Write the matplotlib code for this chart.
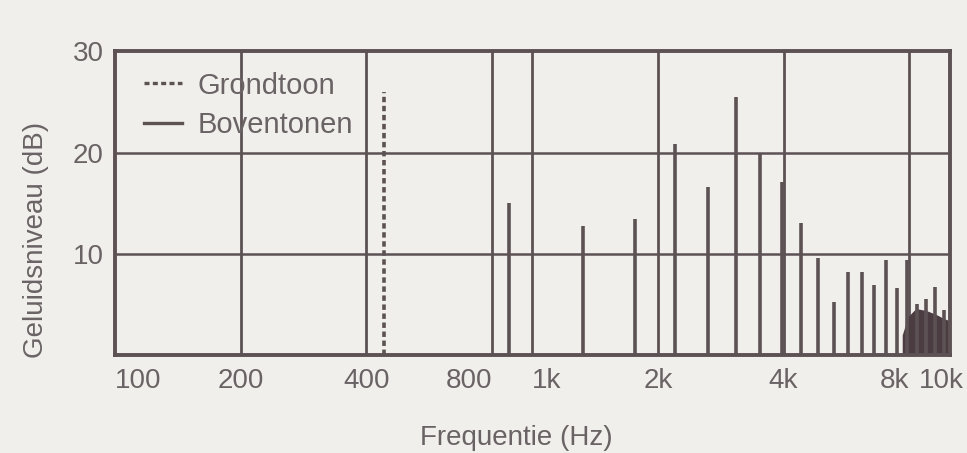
import matplotlib
matplotlib.use("Agg")
import matplotlib.pyplot as plt
import matplotlib.transforms as mtransforms
import numpy as np

# grondtoon en boventonen (Hz, dB)
grond_freq = 440
grond_level = 26.0

boven_freq = [880, 1320, 1760, 2200, 2640, 3080, 3520, 3960, 4400, 4840,
              5280, 5720, 6160, 6600, 7040, 7480, 7920, 8360, 8800, 9240, 9680]
boven_level = [15.0, 12.7, 13.4, 20.8, 16.6, 25.5, 20.0, 17.1, 13.0, 9.6,
               5.2, 8.2, 8.2, 6.9, 9.4, 6.6, 9.4, 5.0, 5.5, 6.7, 4.5]

# ruisvloer rechtsonder
ruis_freq = [7700, 7950, 8300, 8800, 9300, 9700, 10000]
ruis_level = [2.0, 3.8, 4.6, 4.4, 4.0, 3.6, 3.4]

tick_freq = [100, 200, 400, 800, 1000, 2000, 4000, 8000, 10000]
tick_labels = ['100', '200', '400', '800', '1k', '2k', '4k', '8k', '10k']
grid_freq = [200, 400, 800, 1000, 2000, 4000, 8000]

ink = '#5c5254'
txt = '#6a6365'
bg = '#f1efeb'
dash = (0, (1.5, 1.0))

plt.rcParams['font.family'] = ['Liberation Sans', 'DejaVu Sans']

fig = plt.figure(figsize=(9.67, 4.53), dpi=100, facecolor=bg)
ax = fig.add_axes([0.119, 0.216, 0.863, 0.671], facecolor=bg)

# raster
for f in grid_freq:
    ax.axvline(f, color=ink, lw=2.0, zorder=1)
for y in [10, 20]:
    ax.axhline(y, color=ink, lw=1.8, zorder=1)

ax.fill_between(ruis_freq, 0, ruis_level, color='#4a3c40', lw=0, zorder=2)

ax.vlines(boven_freq, 0, boven_level, color=ink, lw=2.6, zorder=3)
ax.vlines([grond_freq], 0, [grond_level], color=ink, lw=2.6,
          linestyles=dash, zorder=3)

ax.set_xscale('log')
ax.set_xlim(100, 10000)
ax.set_ylim(0, 30)
ax.minorticks_off()
ax.set_xticks(tick_freq)
ax.set_xticklabels(tick_labels)
ax.set_yticks([10, 20, 30])
ax.tick_params(length=0, labelsize=20, colors=txt)
ax.tick_params(axis='x', pad=9)
ax.tick_params(axis='y', pad=8)
for lab, f in zip(ax.get_xticklabels(), tick_freq):
    if f in (800, 8000):
        lab.set_horizontalalignment('right')
    elif f in (100, 1000):
        lab.set_horizontalalignment('left')
    elif f == 10000:
        lab.set_horizontalalignment('right')
        lab.set_transform(lab.get_transform() + mtransforms.ScaledTranslation(
            0.14, 0, fig.dpi_scale_trans))

for s in ax.spines.values():
    s.set_color(ink)
    s.set_linewidth(2.8)

ax.set_xlabel('Frequentie (Hz)', fontsize=20, color=txt)
ax.xaxis.set_label_coords(0.481, -0.23)
ax.set_ylabel('Geluidsniveau (dB)', fontsize=20, color=txt)
ax.yaxis.set_label_coords(-0.079, 0.38)

h1, = ax.plot([], [], color=ink, lw=2.4, linestyle=dash)
h2, = ax.plot([], [], color=ink, lw=2.4)
leg = ax.legend([h1, h2], ['Grondtoon', 'Boventonen'], loc='upper left',
                frameon=False, fontsize=21, handlelength=1.3,
                handletextpad=0.55, labelspacing=0.4, borderpad=0.2,
                bbox_to_anchor=(0.01, 1.0))
for t in leg.get_texts():
    t.set_color(txt)

fig.savefig('out.png', dpi=100, facecolor=bg)
